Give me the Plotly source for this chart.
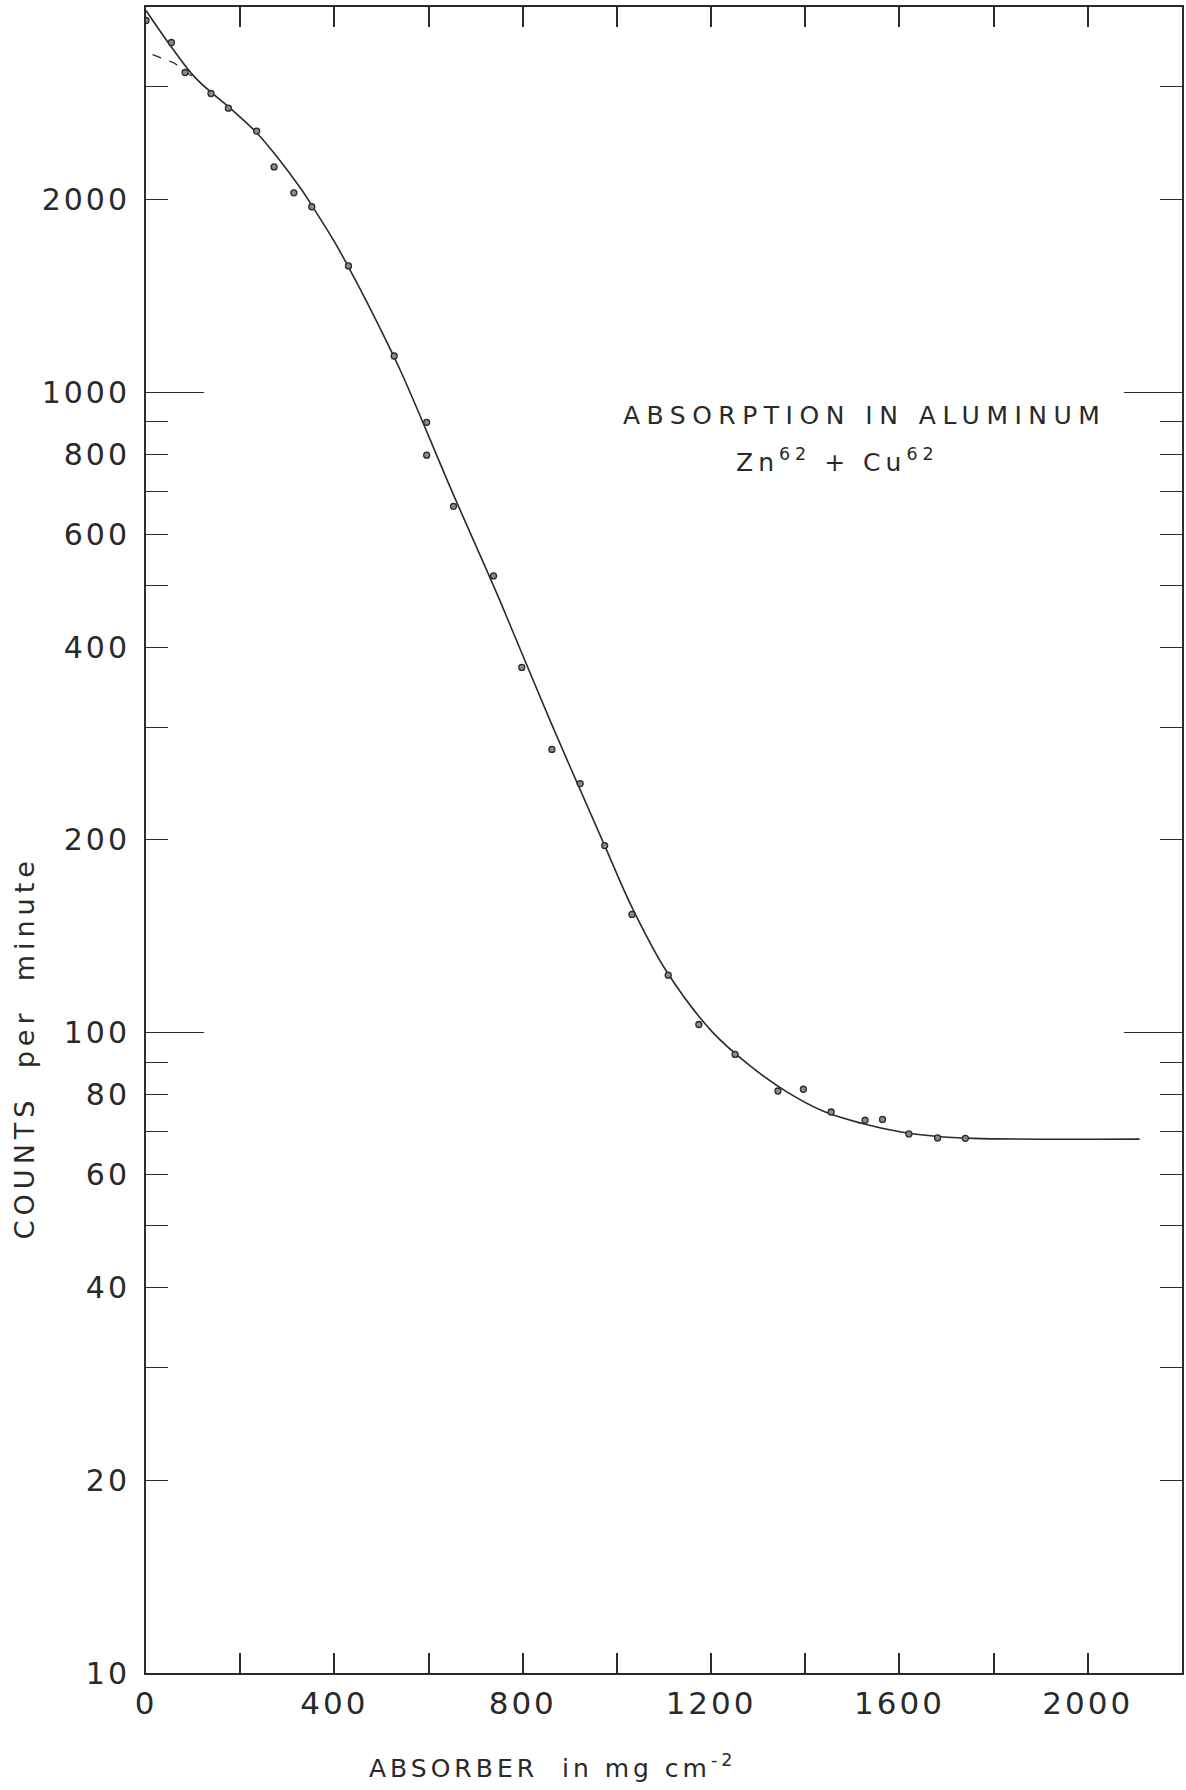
import plotly.graph_objects as go

# Aluminium absorber thickness (mg cm^-2) and measured counting rates
absorber = [0, 54, 83, 138, 175, 235, 272, 314, 352, 430, 527, 596, 596, 653,
            738, 798, 862, 922, 974, 1032, 1109, 1174, 1251, 1342, 1396, 1455,
            1527, 1564, 1620, 1681, 1740]
counts = [3810, 3520, 3160, 2930, 2780, 2560, 2250, 2050, 1950, 1576, 1140, 898,
          798, 664, 517, 372, 277, 245, 196, 153, 123, 103, 92.5, 81.1, 81.6,
          75.2, 73.0, 73.2, 69.5, 68.5, 68.4]

# Smooth absorption curve drawn through the measurements
curve_x = [0, 52, 105, 187, 235, 279, 329, 352, 400, 430, 470, 540, 650, 750,
           860, 974, 1032, 1106, 1202, 1281, 1360, 1440, 1519, 1598, 1677, 1756,
           2110]
curve_y = [3950, 3480, 3100, 2745, 2545, 2330, 2080, 1960, 1720, 1570, 1380,
           1083, 700, 476, 305, 196, 157, 124.5, 100.4, 89, 80.9, 75.3, 72.2,
           70.1, 68.9, 68.4, 68.2]

# Dashed back-extrapolation of the harder component
extrap_x = [14, 60, 102]
extrap_y = [3370, 3270, 3100]

# Axis ticks: labelled (major) and plain (minor)
x_tickvals = [0, 400, 800, 1200, 1600, 2000]
x_minor = [200, 600, 1000, 1400, 1800]
y_tickvals = [10, 20, 40, 60, 80, 100, 200, 400, 600, 800, 1000, 2000]
y_minor = [30, 50, 70, 90, 300, 500, 700, 900, 3000]
y_long_ticks = [100, 1000]

INK = "#2a2a2a"
FONT = "DejaVu Sans"


def spaced(s, px):
    return f"<span style='letter-spacing:{px}px'>{s}</span>"


fig = go.Figure()

fig.add_trace(go.Scatter(
    x=curve_x, y=curve_y, mode="lines",
    line=dict(color=INK, width=1.6, shape="spline", smoothing=1.0),
    hoverinfo="skip", showlegend=False))

fig.add_trace(go.Scatter(
    x=extrap_x, y=extrap_y, mode="lines",
    line=dict(color=INK, width=1.3, dash="dash"),
    hoverinfo="skip", showlegend=False))

fig.add_trace(go.Scatter(
    x=absorber, y=counts, mode="markers",
    marker=dict(symbol="circle", size=6, color="#8a8a8a",
                line=dict(color=INK, width=1.3)),
    showlegend=False))

# Invisible trace carrying the overlay axis for the long decade ticks
fig.add_trace(go.Scatter(
    x=curve_x, y=curve_y, yaxis="y2", mode="lines",
    line=dict(width=0, color="rgba(0,0,0,0)"),
    hoverinfo="skip", showlegend=False))

y_range = [1, 3.602]

fig.update_layout(
    width=1186, height=1790,
    margin=dict(l=146, r=2, t=7, b=117),
    paper_bgcolor="white", plot_bgcolor="white",
    font=dict(family=FONT, color=INK),
    xaxis=dict(
        range=[0, 2200], showgrid=False, zeroline=False,
        showline=True, linewidth=2, linecolor=INK, mirror="ticks",
        ticks="inside", ticklen=20, tickwidth=1.6, tickcolor=INK,
        tickmode="array", tickvals=x_tickvals,
        ticktext=[spaced(str(v), 3) for v in x_tickvals],
        tickfont=dict(size=31, color=INK), ticklabelstandoff=2,
        minor=dict(tickmode="array", tickvals=x_minor, ticks="inside",
                   ticklen=20, tickwidth=1.6, tickcolor=INK, showgrid=False)),
    yaxis=dict(
        type="log", range=y_range, showgrid=False, zeroline=False,
        showline=True, linewidth=2, linecolor=INK, mirror="ticks",
        ticks="inside", ticklen=22, tickwidth=1.4, tickcolor=INK,
        tickmode="array", tickvals=y_tickvals,
        ticktext=[spaced(str(v), 3) for v in y_tickvals],
        tickfont=dict(size=30, color=INK), ticklabelstandoff=8,
        minor=dict(tickmode="array", tickvals=y_minor, ticks="inside",
                   ticklen=22, tickwidth=1.4, tickcolor=INK, showgrid=False)),
    yaxis2=dict(
        type="log", range=y_range, overlaying="y", side="left",
        showgrid=False, zeroline=False, showline=False, mirror="ticks",
        ticks="inside", ticklen=58, tickwidth=1.4, tickcolor=INK,
        tickmode="array", tickvals=y_long_ticks, showticklabels=False),
)


def px_to_paper(X, Y):
    return (X - 146) / 1038, (1673 - Y) / 1666


annots = [
    (spaced("ABSORPTION IN ALUMINUM", 6.5), 866, 416, 25, 0),
    (spaced("Zn<sup>62</sup> + Cu<sup>62</sup>", 5), 839, 460, 25, 0),
    (spaced("ABSORBER  in mg cm<sup>-2</sup>", 4), 553, 1766, 25, 0),
    (spaced("COUNTS  per  minute", 5), 24, 1048, 27, -90),
]
for text, X, Y, size, ang in annots:
    px, py = px_to_paper(X, Y)
    fig.add_annotation(text=text, x=px, y=py, xref="paper", yref="paper",
                       xanchor="center", yanchor="middle", showarrow=False,
                       textangle=ang, font=dict(size=size, color=INK, family=FONT))

fig.write_html("out.html")
